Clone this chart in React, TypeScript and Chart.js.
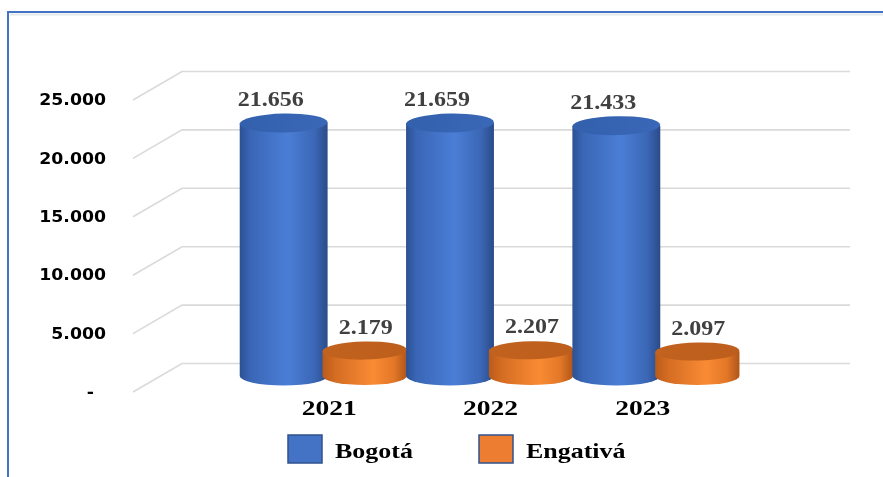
import React, { useEffect, useRef } from 'react';
import { Chart, registerables } from 'chart.js';

Chart.register(...registerables);

// ---- data ----
const categories = ['2021', '2022', '2023'];
const seriesNames = ['Bogotá', 'Engativá'];
const bogota = [21656, 21659, 21433];
const engativa = [2179, 2207, 2097];
const yTicks = [0, 5000, 10000, 15000, 20000, 25000];

// ---- styles ----
const BLUE = '#4472C4';
const ORANGE = '#ED7D31';
const palettes = [
  {
    body: [[0, '#2C5193'], [0.12, '#3A66B6'], [0.55, '#4A7ED6'], [0.85, '#3B67B6'], [1, '#2A4B88']],
    top: ['#3360AC', '#3A68B8'],
  },
  {
    body: [[0, '#BA5B1B'], [0.15, '#D46C22'], [0.6, '#F98B34'], [0.85, '#E27727'], [1, '#B0551A']],
    top: ['#C2621F', '#BD5E1C'],
  },
];

const fmt = (v: number) => String(Math.round(v)).replace(/\B(?=(\d{3})+(?!\d))/g, '.');

const PLANE_SHIFT = 16; // cylinders sit behind the front plane
const BACK_DY = 28.5;
const FRONT_X = 133;
const BACK_X = 182;
const RIGHT_X = 850;
const YLABEL_X = 106;
const LABEL_DX = [-13, 1];
const XLABEL_DX = [5, 0, -14];

function drawCylinder(ctx: CanvasRenderingContext2D, cx: number, yTop: number, yBot: number, rx: number, ry: number, pal: any) {
  const xl = cx - rx;
  const xr = cx + rx;
  const g = ctx.createLinearGradient(xl, 0, xr, 0);
  pal.body.forEach((s: any) => g.addColorStop(s[0], s[1]));
  ctx.beginPath();
  ctx.moveTo(xl, yTop);
  ctx.lineTo(xl, yBot);
  ctx.ellipse(cx, yBot, rx, ry, 0, Math.PI, 0, true);
  ctx.lineTo(xr, yTop);
  ctx.closePath();
  ctx.fillStyle = g;
  ctx.fill();
  const gt = ctx.createLinearGradient(xl, yTop - ry, xr, yTop + ry);
  gt.addColorStop(0, pal.top[0]);
  gt.addColorStop(1, pal.top[1]);
  ctx.beginPath();
  ctx.ellipse(cx, yTop, rx, ry, -0.02, 0, Math.PI * 2);
  ctx.fillStyle = gt;
  ctx.fill();
}

function stretchedText(ctx: CanvasRenderingContext2D, text: string, x: number, y: number, sx: number) {
  ctx.save();
  ctx.translate(x, y);
  ctx.scale(sx, 1);
  ctx.fillText(text, 0, 0);
  ctx.restore();
}

const decorPlugin = {
  id: 'decor3d',
  beforeDraw(chart: any) {
    const ctx = chart.ctx as CanvasRenderingContext2D;
    ctx.save();
    ctx.fillStyle = '#ffffff';
    ctx.fillRect(0, 0, chart.width, chart.height);
    // frame
    ctx.strokeStyle = '#E4E9E9';
    ctx.lineWidth = 2;
    ctx.beginPath();
    ctx.moveTo(10, 14.5);
    ctx.lineTo(chart.width + 5, 14.5);
    ctx.stroke();
    ctx.strokeStyle = BLUE;
    ctx.lineWidth = 2;
    ctx.beginPath();
    ctx.moveTo(8, chart.height + 5);
    ctx.lineTo(8, 12);
    ctx.lineTo(chart.width + 5, 12);
    ctx.stroke();
    // gridlines (back wall + floor edges) and value-axis labels on the front plane
    const ys = chart.scales.y;
    ctx.strokeStyle = '#DADADA';
    ctx.lineWidth = 1.6;
    ctx.font = 'bold 16px "DejaVu Sans", Verdana, sans-serif';
    ctx.textAlign = 'right';
    ctx.textBaseline = 'middle';
    ys.ticks.forEach((t: any) => {
      const yf = ys.getPixelForValue(t.value);
      ctx.beginPath();
      ctx.moveTo(FRONT_X, yf);
      ctx.lineTo(BACK_X, yf - BACK_DY);
      ctx.lineTo(RIGHT_X, yf - BACK_DY);
      ctx.stroke();
      ctx.fillStyle = '#000000';
      stretchedText(ctx, t.value === 0 ? '-  ' : fmt(t.value), YLABEL_X, yf + 1, 1.08);
    });
    // category labels on the front plane
    const xs = chart.scales.x;
    ctx.font = 'bold 22px "Liberation Serif", "Times New Roman", serif';
    ctx.textAlign = 'center';
    ctx.textBaseline = 'alphabetic';
    xs.ticks.forEach((t: any, i: number) => {
      const px = xs.getPixelForTick(i);
      stretchedText(ctx, categories[i], px + XLABEL_DX[i], xs.top + 23, 1.25);
    });
    ctx.restore();
  },
  afterDatasetsDraw(chart: any) {
    const ctx = chart.ctx as CanvasRenderingContext2D;
    const items: any[] = [];
    chart.data.datasets.forEach((ds: any, di: number) => {
      const meta = chart.getDatasetMeta(di);
      meta.data.forEach((el: any, i: number) => {
        const p = el.getProps(['x', 'y', 'base', 'width'], true);
        items.push({ di, i, x: p.x, y: p.y, base: p.base, width: p.width, value: ds.data[i] });
      });
    });
    items.sort((a, b) => a.x - b.x);
    ctx.save();
    items.forEach((it) => {
      const rx = it.width / 2;
      const ry = rx * 0.215;
      drawCylinder(ctx, it.x, it.y - PLANE_SHIFT, it.base - PLANE_SHIFT, rx, ry, palettes[it.di]);
    });
    ctx.fillStyle = '#404040';
    ctx.font = 'bold 20px "Liberation Serif", "Times New Roman", serif';
    ctx.textAlign = 'center';
    ctx.textBaseline = 'middle';
    items.forEach((it) => {
      stretchedText(ctx, fmt(it.value), it.x + LABEL_DX[it.di], it.y - PLANE_SHIFT - 22, 1.2);
    });
    ctx.restore();
  },
  afterDraw(chart: any) {
    const ctx = chart.ctx as CanvasRenderingContext2D;
    const colors = [BLUE, ORANGE];
    const boxX = [288, 479];
    ctx.save();
    ctx.font = 'bold 22px "Liberation Serif", "Times New Roman", serif';
    ctx.textAlign = 'left';
    ctx.textBaseline = 'alphabetic';
    chart.data.datasets.forEach((ds: any, di: number) => {
      const x = boxX[di];
      ctx.fillStyle = colors[di];
      ctx.fillRect(x, 435, 34, 28);
      ctx.strokeStyle = '#2F528F';
      ctx.lineWidth = 1.5;
      ctx.strokeRect(x, 435, 34, 28);
      ctx.fillStyle = '#000000';
      stretchedText(ctx, ds.label, x + 47, 458, 1.18);
    });
    ctx.restore();
  },
};

export default function App() {
  const ref = useRef<HTMLCanvasElement | null>(null);
  useEffect(() => {
    if (!ref.current) return;
    const chart = new Chart(ref.current, {
      type: 'bar',
      data: {
        labels: categories,
        datasets: [
          { label: seriesNames[0], data: bogota, backgroundColor: 'rgba(0,0,0,0)', borderWidth: 0, barPercentage: 1.085, categoryPercentage: 0.974 },
          { label: seriesNames[1], data: engativa, backgroundColor: 'rgba(0,0,0,0)', borderWidth: 0, barPercentage: 1.04, categoryPercentage: 0.974 },
        ],
      },
      options: {
        responsive: true,
        maintainAspectRatio: false,
        animation: false,
        layout: { padding: { top: 100, right: 143, bottom: 45, left: 0 } },
        plugins: { legend: { display: false }, tooltip: { enabled: false } },
        scales: {
          x: {
            grid: { display: false, drawTicks: false },
            border: { display: false },
            ticks: { display: false, padding: 0 },
            afterFit: (s: any) => { s.height = 40; },
          },
          y: {
            min: 0,
            max: 25000,
            grid: { display: false, drawTicks: false },
            border: { display: false },
            afterBuildTicks: (s: any) => { s.ticks = yTicks.map((v) => ({ value: v })); },
            ticks: { display: false, padding: 0 },
            afterFit: (s: any) => { s.width = 241; },
          },
        },
      } as any,
      plugins: [decorPlugin as any],
    });
    return () => chart.destroy();
  }, []);
  return (
    <div style={{ position: 'fixed', left: 0, top: 0, width: 883, height: 477, background: '#fff' }}>
      <canvas ref={ref} />
    </div>
  );
}
